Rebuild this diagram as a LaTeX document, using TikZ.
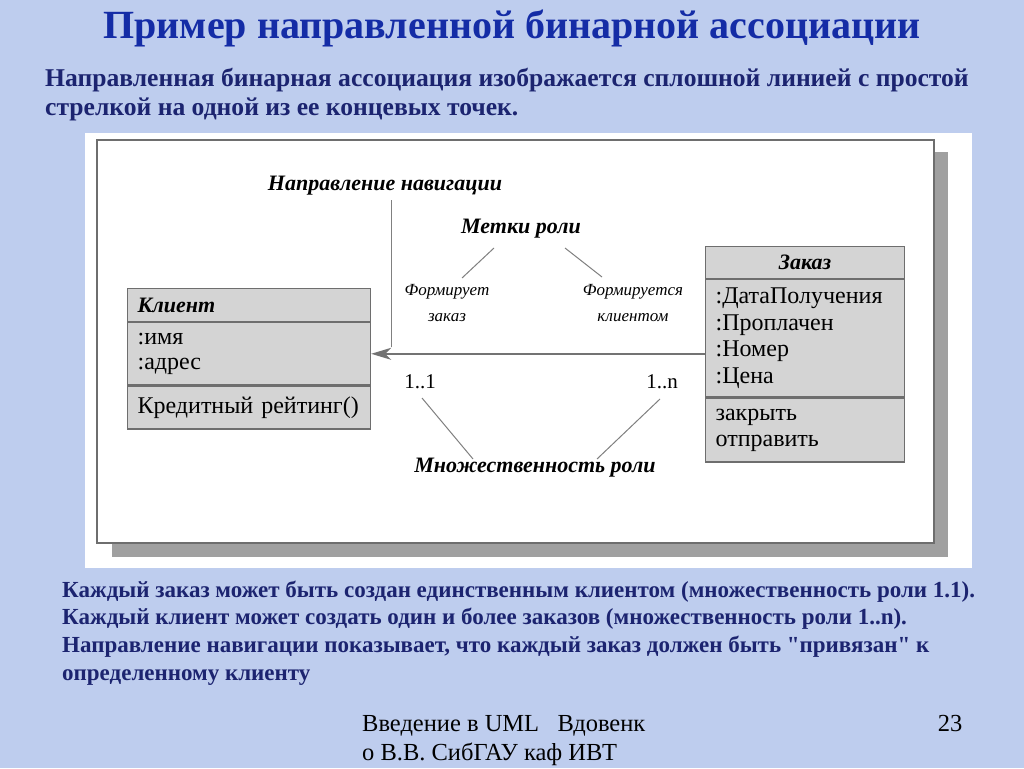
\documentclass[tikz,border=0pt]{standalone}
\usepackage{fontspec}
\setmainfont{Liberation Serif}[Ligatures=TeXOff]
\usetikzlibrary{arrows.meta,positioning}

\definecolor{slidebg}{RGB}{190,205,238}
\definecolor{titleblue}{RGB}{20,44,166}
\definecolor{textnavy}{RGB}{28,36,112}
\definecolor{boxfill}{RGB}{212,212,212}
\definecolor{boxline}{RGB}{110,110,110}
\definecolor{shadowgray}{RGB}{160,160,160}

\begin{document}
\begin{tikzpicture}[x=1pt,y=-1pt,
  compart/.style={rectangle, draw=boxline, fill=boxfill, line width=1.2pt,
                  inner xsep=10pt, inner ysep=0pt, align=left,
                  font=\fontsize{24}{25}\selectfont, anchor=north west},
  clsname/.style={compart, font=\fontsize{22}{24}\selectfont\bfseries\itshape},
  hint/.style={font=\fontsize{22}{24}\selectfont\bfseries\itshape, inner sep=0pt},
  role/.style={font=\fontsize{17}{26}\selectfont\itshape, align=center, inner sep=0pt},
  mult/.style={font=\fontsize{21}{25}\selectfont, inner sep=0pt},
  leader/.style={draw=gray, line width=1pt},
  assoc/.style={draw=gray!90!black, line width=1.5pt,
                -{Stealth[length=20pt,width=12pt,inset=6pt]}},
  slidetext/.style={text=textnavy, align=left, anchor=north west, inner sep=0pt}
]
  % slide
  \useasboundingbox (0,0) rectangle (1024,768);
  \fill[slidebg] (0,0) rectangle (1024,768);

  \node[text=titleblue, font=\fontsize{40}{44}\selectfont\bfseries, inner sep=0pt]
    (title) at (512,28) {Пример направленной бинарной ассоциации};
  \node[slidetext, font=\fontsize{25.6}{29}\selectfont\bfseries] (intro) at (45,68)
    {Направленная бинарная ассоциация изображается сплошной линией с простой\\
     стрелкой на одной из ее концевых точек.};

  % diagram panel
  \fill[white] (85,133) rectangle (972,568);
  \fill[shadowgray] (112,152) rectangle (948,557);
  \draw[boxline, fill=white, line width=1.5pt] (97,140) rectangle (934,543);

  % class Клиент
  \node[clsname, text width=223pt, minimum height=33pt] (kname) at (127,288) {Клиент};
  \node[compart, text width=223pt, minimum height=62pt, below=0pt of kname] (kattr)
    {:имя\\:адрес};
  \node[compart, text width=223pt, minimum height=43pt, below=0pt of kattr] (kops)
    {Кредитный рейтинг()};

  % class Заказ
  \node[clsname, align=center, text width=179pt, minimum height=32pt] (zname) at (705,246) {Заказ};
  \node[compart, font=\fontsize{24}{26.5}\selectfont, text width=179pt, minimum height=117pt,
        below=0pt of zname] (zattr)
    {:ДатаПолучения\\:Проплачен\\:Номер\\:Цена};
  \node[compart, font=\fontsize{24}{26}\selectfont, text width=179pt, minimum height=64pt,
        below=0pt of zattr] (zops)
    {закрыть\\отправить};

  % association
  \draw[assoc] (zattr.west |- kattr.east) -- (kattr.east);

  % annotations
  \node[hint] (nav) at (385,186) {Направление навигации};
  \coordinate (navtop) at ([shift={(6,14)}]nav.center);
  \coordinate (navend) at (391,347);
  \draw[leader] (navtop) -- (navend);

  \node[hint] (roles) at (521,229) {Метки роли};
  \node[role] (rolea) at (447,303) {Формирует\\заказ};
  \node[role] (roleb) at (633,303) {Формируется\\клиентом};
  \draw[leader] ([shift={(-27,19)}]roles.center) -- ([shift={(15,-25)}]rolea.center);
  \draw[leader] ([shift={(44,19)}]roles.center) -- ([shift={(-31,-26)}]roleb.center);

  \node[mult] (m1) at (420,382) {1..1};
  \node[mult] (mn) at (662,382) {1..n};
  \node[hint] (mult) at (535,468) {Множественность роли};
  \draw[leader] ([shift={(2,16)}]m1.center) -- ([shift={(-62,-9)}]mult.center);
  \draw[leader] ([shift={(-2,17)}]mn.center) -- ([shift={(62,-9)}]mult.center);

  % notes
  \node[slidetext, font=\fontsize{23}{27.7}\selectfont\bfseries] (notes) at (62,580.5)
    {Каждый заказ может быть создан единственным клиентом (множественность роли 1.1).\\
     Каждый клиент может создать один и более заказов (множественность роли 1..n).\\
     Направление навигации показывает, что каждый заказ должен быть "привязан" к\\
     определенному клиенту};

  % footer
  \node[slidetext, text=black, font=\fontsize{24.5}{29}\selectfont] (foot) at (362,715)
    {Введение в UML\ \ \ Вдовенк\\о В.В. СибГАУ каф ИВТ};
  \node[text=black, font=\fontsize{24.5}{29}\selectfont, inner sep=0pt] (page) at (950,723) {23};
\end{tikzpicture}
\end{document}
